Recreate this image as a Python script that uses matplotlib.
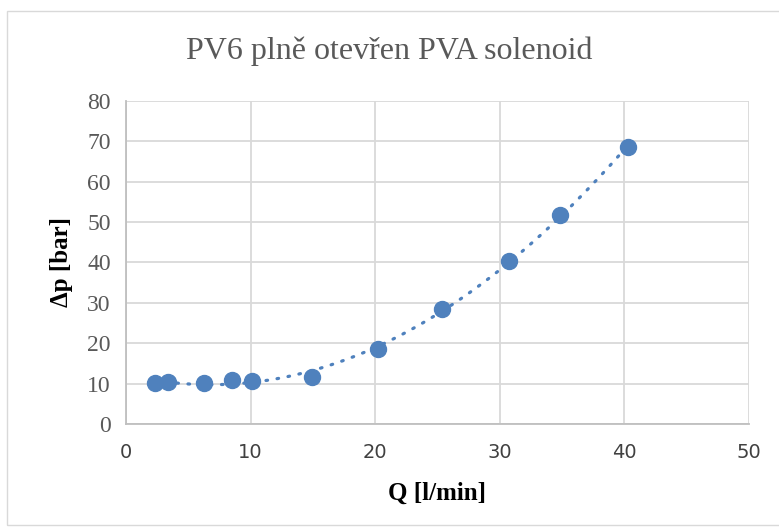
import numpy as np
import matplotlib.pyplot as plt
from matplotlib.patches import Rectangle

# flow [l/min] and pressure drop [bar]
q = [2.3, 3.4, 6.3, 8.5, 10.1, 14.9, 20.2, 25.4, 30.7, 34.8, 40.3]
dp = [10.2, 10.5, 10.2, 10.9, 10.6, 11.6, 18.6, 28.5, 40.4, 51.7, 68.5]

x_ticks = [0, 10, 20, 30, 40, 50]
y_ticks = [0, 10, 20, 30, 40, 50, 60, 70, 80]

BLUE = '#4F81BD'
GREY_TXT = '#595959'
GRID = '#D9D9D9'

fig = plt.figure(figsize=(7.79, 5.31), dpi=100)
# chart frame, the right edge is cut off in the screenshot
fig.patches.append(Rectangle((7 / 779, 6 / 531), 790 / 779, 514 / 531,
                             transform=fig.transFigure, fill=False,
                             edgecolor='#D9D9D9', linewidth=1))

ax = fig.add_axes([0.1617, 0.2015, 0.7998, 0.6083])

# polynomial trend line (order 2), like the Excel one
coef = np.polyfit(q, dp, 2)
xs = np.linspace(min(q), max(q), 200)
ax.plot(xs, np.polyval(coef, xs), color=BLUE, linestyle=(0, (0.5, 3.0)),
        linewidth=2.3, dash_capstyle='round', zorder=2)
ax.plot(q, dp, 'o', color=BLUE, markersize=11.5, zorder=3)

ax.set_xlim(0, 50)
ax.set_ylim(0, 80)
ax.set_xticks(x_ticks)
ax.set_yticks(y_ticks)
ax.grid(True, color=GRID, linewidth=1.3)
ax.set_axisbelow(True)
for s in ax.spines.values():
    s.set_visible(False)
ax.spines['left'].set_visible(True)
ax.spines['bottom'].set_visible(True)
ax.spines['left'].set_color('#BFBFBF')
ax.spines['bottom'].set_color('#BFBFBF')
ax.spines['left'].set_linewidth(1.3)
ax.spines['bottom'].set_linewidth(1.3)
ax.tick_params(axis='y', length=0, pad=11)
ax.tick_params(axis='x', length=0, pad=14)

for lab in ax.get_yticklabels():
    lab.set_family('Liberation Serif')
    lab.set_fontsize(17)
    lab.set_color(GREY_TXT)
for lab in ax.get_xticklabels():
    lab.set_family('DejaVu Sans')
    lab.set_fontsize(14)
    lab.set_color('#404040')

ax.set_xlabel('Q [l/min]', family='Liberation Serif', fontsize=18,
              fontweight='bold', labelpad=14)
ax.set_ylabel('Δp [bar]', family='Liberation Serif', fontsize=18,
              fontweight='bold', labelpad=10)

fig.text(0.5, 0.903, 'PV6 plně otevřen PVA solenoid', ha='center', va='center',
         family='Liberation Serif', fontsize=23, color=GREY_TXT)

fig.savefig('out.png', dpi=100)
